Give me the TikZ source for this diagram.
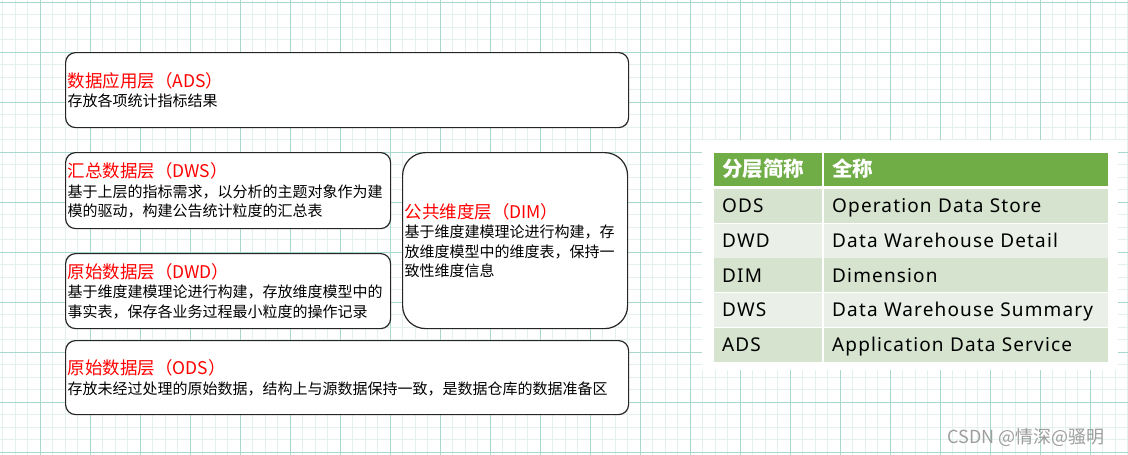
\documentclass[tikz,border=0pt]{standalone}
\usepackage{fontspec}
\usepackage{xcolor}
\usepackage{tikz}
\setmainfont{Noto Sans CJK SC}
\newfontfamily\cjkfont{Noto Sans CJK SC}
\newfontfamily\tabfont[LetterSpace=6]{Noto Sans}
\usetikzlibrary{positioning,calc}

\definecolor{gridmajor}{HTML}{A9D6CD}
\definecolor{gridminor}{HTML}{E3F0ED}
\definecolor{headgreen}{HTML}{70AD47}
\definecolor{rowdark}{HTML}{D5E3CF}
\definecolor{rowlight}{HTML}{EAF0E7}
\definecolor{titlered}{HTML}{FF0000}
\definecolor{markgray}{HTML}{9E9E9E}

\tikzset{
    layerbox/.style={draw=black!85, fill=white, line width=1.2pt, rounded corners=10pt,
        align=left, inner xsep=2pt, inner ysep=0pt, anchor=north west,
        font=\fontsize{15}{19.5}\selectfont},
    tabcell/.style={anchor=north west, inner xsep=8pt, inner ysep=0pt, align=left,
        text height=13.6pt, text depth=0pt, font=\tabfont\fontsize{19}{19}\selectfont},
}
\newcommand{\layertitle}[1]{{\color{titlered}\fontsize{17.5}{19.5}\selectfont #1}}

\begin{document}
\begin{tikzpicture}[x=1pt,y=-1pt]
    \useasboundingbox (0,0) rectangle (1128,455);
    % Paper grid
    \fill[white] (0,0) rectangle (1128,455);
    \draw[gridminor, line width=1pt, step=12.5pt, shift={(2.5,2)}] (-2.5,-2) grid (1125.5,453);
    \draw[gridmajor, line width=1pt, step=50pt, shift={(40,2)}] (-40,-2) grid (1088,453);

    % Layers
    \node[layerbox, text width=559pt, minimum height=75pt] (ads) at (65,52)
        {\layertitle{数据应用层（ADS）}\\存放各项统计指标结果};
    \node[layerbox, text width=321pt, minimum height=76pt] (dws) at (65,152)
        {\layertitle{汇总数据层（DWS）}\\基于上层的指标需求，以分析的主题对象作为建\\模的驱动，构建公告统计粒度的汇总表};
    \node[layerbox, text width=321pt, minimum height=75pt] (dwd) at (65,253)
        {\layertitle{原始数据层（DWD）}\\基于维度建模理论进行构建，存放维度模型中的\\事实表，保存各业务过程最小粒度的操作记录};
    \node[layerbox, rounded corners=23pt, text width=221pt, minimum height=176pt] (dim) at (402,152)
        {\layertitle{公共维度层（DIM）}\\基于维度建模理论进行构建，存\\放维度模型中的维度表，保持一\\致性维度信息};
    \node[layerbox, text width=559pt, minimum height=74pt] (ods) at (65,340)
        {\layertitle{原始数据层（ODS）}\\存放未经过处理的原始数据，结构上与源数据保持一致，是数据仓库的数据准备区};

    % Table of abbreviations
    \fill[white] (702,140) rectangle (1118,370);
    \node[tabcell, fill=headgreen, text=white, text width=92pt, minimum height=33pt] (hshort) at (714,153)
        {\cjkfont\bfseries\fontsize{20.5}{20.5}\selectfont 分层简称};
    \node[tabcell, fill=headgreen, text=white, text width=268pt, minimum height=33pt] (hfull) at (824,153)
        {\cjkfont\bfseries\fontsize{20.5}{20.5}\selectfont 全称};
    \foreach \abbr/\full/\shade [count=\i] in {ODS/Operation Data Store/rowdark,
            DWD/Data Warehouse Detail/rowlight, DIM/Dimension/rowdark,
            DWS/Data Warehouse Summary/rowlight, ADS/Application Data Service/rowdark} {
        \node[tabcell, fill=\shade, text width=92pt, minimum height=34pt] (short\i) at (714,153.7+34.8*\i) {\abbr};
        \node[tabcell, fill=\shade, text width=268pt, minimum height=34pt] (full\i) at (824,153.7+34.8*\i) {\full};
    }

    % Watermark
    \node[anchor=west, text=markgray, font=\fontsize{18}{18}\selectfont] (mark) at (944,437) {CSDN @情深@骚明};
\end{tikzpicture}
\end{document}
